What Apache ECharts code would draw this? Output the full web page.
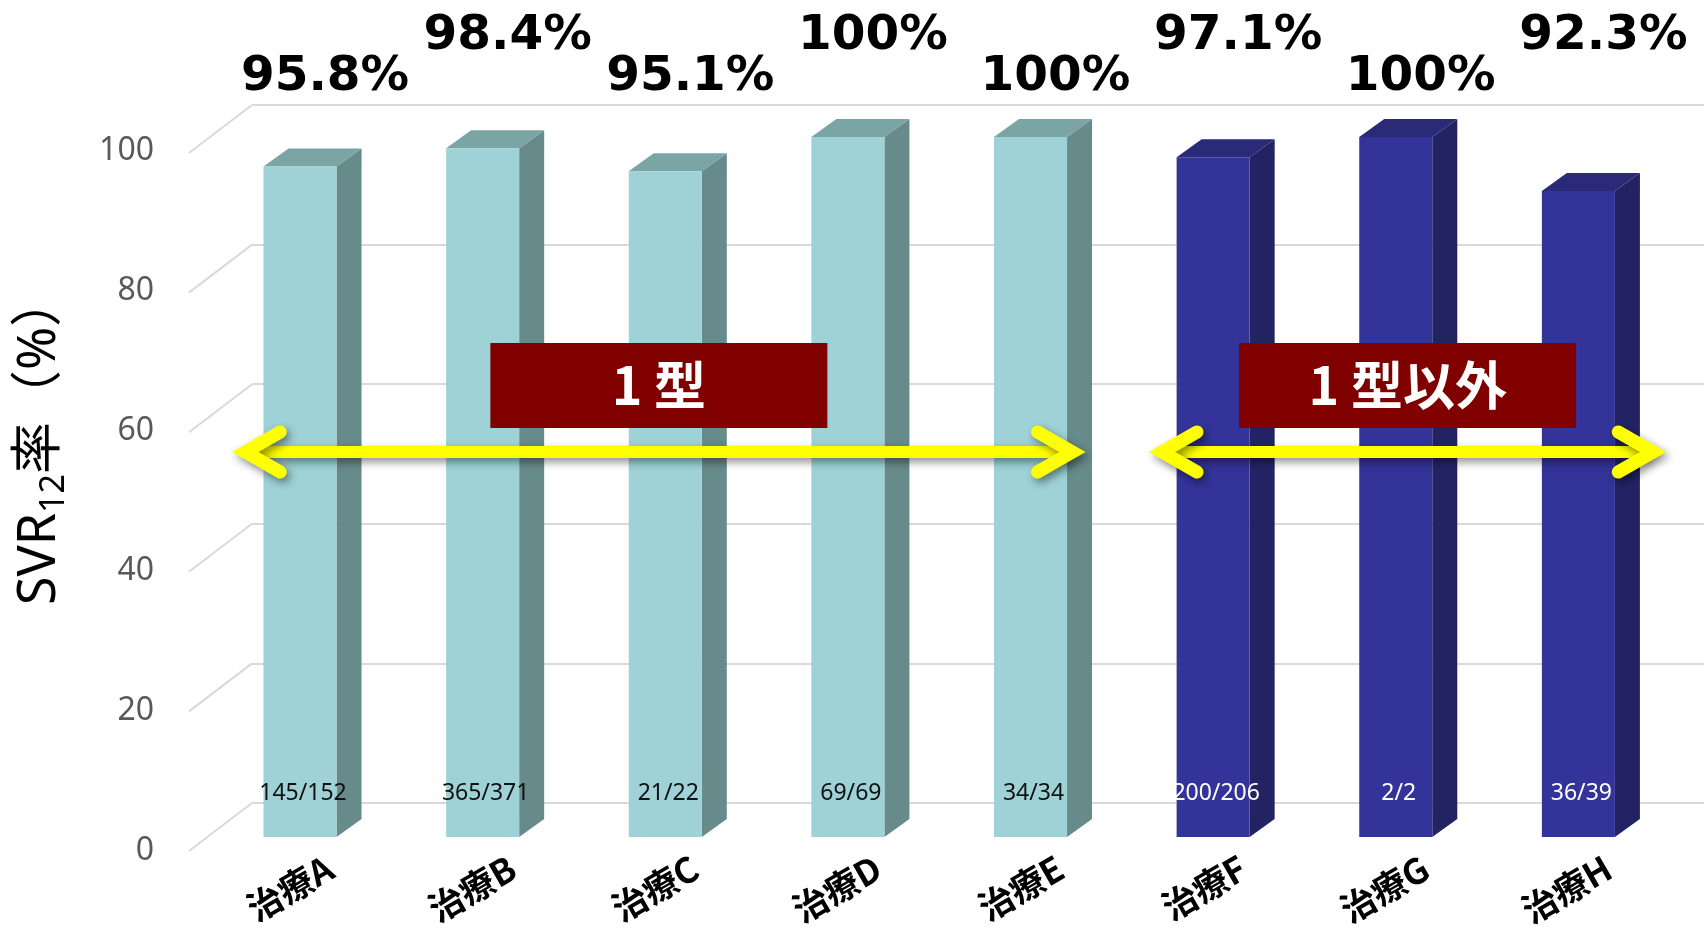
<!DOCTYPE html>
<html>
<head>
<meta charset="utf-8">
<script src="https://cdn.jsdelivr.net/npm/echarts@6/dist/echarts.min.js"></script>
<style>
  html, body { margin: 0; padding: 0; background: #ffffff; }
  #chart { width: 1704px; height: 930px; }
</style>
</head>
<body>
<div id="chart"></div>
<script>
// Treatments and their SVR12 rates
const categories = ['治療A', '治療B', '治療C', '治療D', '治療E', '治療F', '治療G', '治療H'];
const svrRates = [95.8, 98.4, 95.1, 100, 100, 97.1, 100, 92.3];
const patientCounts = ['145/152', '365/371', '21/22', '69/69', '34/34', '200/206', '2/2', '36/39'];

// Genotype groups (first / last treatment index of each group)
const groupNames = ['1 型', '1 型以外'];
const groupFirst = [0, 5];
const groupLast = [4, 7];

// Value axis ticks
const yTicks = [0, 20, 40, 60, 80, 100];

// ---- drawing settings ----
const PALETTE = [
  { front: '#9ED2D6', side: '#678A8B', top: '#7BA4A5', count: '#111111' },
  { front: '#333399', side: '#232363', top: '#2A2A78', count: '#FFFFFF' }
];
const DEPTH_X = 25, DEPTH_Y = 18;          // bar depth offset
const WALL_X = 63, WALL_Y = 48;            // floor diagonal
const ARROW_PAD = [[-0.30, 0.23], [-0.28, 0.41]];  // arrow overhang, in bands
const ARROW_LEVEL = 55, BOX_LEVEL = 64.5;
const YELLOW = '#FFFF00';

function groupOf(i) {
  return groupFirst.findIndex((f, g) => i >= f && i <= groupLast[g]);
}

function renderBar(params, api) {
  const i = api.value(0);
  const v = api.value(1);
  const base = api.coord([i, 0]);
  const top = api.coord([i, v]);
  const band = api.size([1, 0])[0];
  const w = band * 0.4;
  const x0 = base[0] - w / 2, x1 = base[0] + w / 2;
  const yb = base[1], yt = top[1];
  const c = PALETTE[groupOf(i)];
  const ref100 = api.coord([i, 100])[1];
  const labelY = ref100 - (i % 2 === 0 ? 60 : 101);
  return {
    type: 'group',
    children: [
      { type: 'polygon',
        shape: { points: [[x1, yb], [x1 + DEPTH_X, yb - DEPTH_Y], [x1 + DEPTH_X, yt - DEPTH_Y], [x1, yt]] },
        style: { fill: c.side } },
      { type: 'polygon',
        shape: { points: [[x0, yt], [x1, yt], [x1 + DEPTH_X, yt - DEPTH_Y], [x0 + DEPTH_X, yt - DEPTH_Y]] },
        style: { fill: c.top } },
      { type: 'rect',
        shape: { x: x0, y: yt, width: w, height: yb - yt },
        style: { fill: c.front } },
      { type: 'text', x: base[0] + 3, y: yb - 44,
        style: { text: patientCounts[i], fill: c.count, fontSize: 23,
                 fontFamily: "'Noto Sans', sans-serif", align: 'center', verticalAlign: 'middle' } },
      { type: 'text', x: base[0] + 25, y: labelY,
        style: { text: svrRates[i] + '%', fill: '#000000', fontSize: 48.5, fontWeight: 'bold',
                 fontFamily: "'DejaVu Sans', sans-serif", align: 'center', verticalAlign: 'middle' } }
    ]
  };
}

function renderGroup(params, api) {
  const g = api.value(0);
  const band = api.size([1, 0])[0];
  const xa = api.coord([groupFirst[g], 0])[0] + ARROW_PAD[g][0] * band;
  const xb = api.coord([groupLast[g], 0])[0] + ARROW_PAD[g][1] * band;
  const y = api.coord([0, ARROW_LEVEL])[1];
  const yBox = api.coord([0, BOX_LEVEL])[1];
  const cx = (xa + xb) / 2;
  const shadow = { shadowBlur: 8, shadowColor: 'rgba(0,0,0,0.45)', shadowOffsetX: 3, shadowOffsetY: 4 };
  return {
    type: 'group',
    children: [
      { type: 'line', shape: { x1: xa + 6, y1: y, x2: xb - 6, y2: y },
        style: Object.assign({ stroke: YELLOW, lineWidth: 12, lineCap: 'butt' }, shadow) },
      { type: 'polyline', shape: { points: [[xa + 35, y - 20], [xa, y], [xa + 35, y + 20]] },
        style: Object.assign({ stroke: YELLOW, lineWidth: 13, lineCap: 'round', lineJoin: 'miter', fill: null }, shadow) },
      { type: 'polyline', shape: { points: [[xb - 35, y - 20], [xb, y], [xb - 35, y + 20]] },
        style: Object.assign({ stroke: YELLOW, lineWidth: 13, lineCap: 'round', lineJoin: 'miter', fill: null }, shadow) },
      { type: 'rect', shape: { x: cx - 168.5, y: yBox - 42.5, width: 337, height: 85 },
        style: { fill: '#800000' } },
      { type: 'text', x: cx, y: yBox,
        style: { text: groupNames[g], fill: '#FFFFFF', fontSize: 52, fontWeight: 'bold',
                 fontFamily: "'Noto Sans CJK JP', sans-serif", align: 'center', verticalAlign: 'middle' } }
    ]
  };
}

const chart = echarts.init(document.getElementById('chart'), null, { renderer: 'canvas' });

chart.setOption({
  animation: false,
  backgroundColor: '#ffffff',
  grid: [
    { left: 208.7, right: 34.3, top: 137, bottom: 93 },   // bar front plane
    { left: 252, right: 0, top: 105, bottom: 127 },       // back wall
    { left: 162, right: 0, top: 151, bottom: 79 },        // floor front edge
    { left: 238.7, right: 4.3, top: 137, bottom: 93 }     // category labels
  ],
  xAxis: [
    { type: 'category', gridIndex: 0, data: categories, show: false },
    { type: 'value', gridIndex: 1, min: 0, max: 1, show: false },
    { type: 'value', gridIndex: 2, min: 0, max: 1, show: false },
    { type: 'category', gridIndex: 3, data: categories,
      axisLine: { show: false }, axisTick: { show: false },
      axisLabel: { rotate: 30, margin: 55, fontSize: 35, fontWeight: 'bold', color: '#000000',
                   fontFamily: "'Noto Sans CJK JP', sans-serif", interval: 0 } }
  ],
  yAxis: [
    { type: 'value', gridIndex: 0, min: 0, max: 100, interval: 20, show: false },
    { type: 'value', gridIndex: 1, min: 0, max: 100, interval: 20,
      axisLine: { show: false }, axisTick: { show: false }, axisLabel: { show: false },
      splitLine: { show: true, lineStyle: { color: '#D9D9D9', width: 2 } } },
    { type: 'value', gridIndex: 2, min: 0, max: 100, interval: 20,
      axisLine: { show: false }, axisTick: { show: false }, splitLine: { show: false },
      axisLabel: { margin: 8, fontSize: 32, color: '#595959', fontFamily: "'Noto Sans', sans-serif",
                   formatter: v => (yTicks.includes(v) ? String(v) : '') } },
    { type: 'value', gridIndex: 3, min: 0, max: 100, show: false }
  ],
  graphic: [
    { type: 'text', x: 40, y: 440, rotation: Math.PI / 2,
      style: {
        text: '{m|SVR}{s|12}{m|率（%）}',
        align: 'center', verticalAlign: 'middle', fill: '#000000',
        rich: {
          m: { fontSize: 52, lineHeight: 62, fill: '#000000', fontFamily: "'Noto Sans', 'Noto Sans CJK JP', sans-serif" },
          s: { fontSize: 34, lineHeight: 34, verticalAlign: 'bottom', fill: '#000000', fontFamily: "'Noto Sans', sans-serif" }
        }
      } }
  ],
  series: [
    { // slanted floor lines joining the back wall
      type: 'custom', xAxisIndex: 1, yAxisIndex: 1, silent: true, z: 1,
      data: yTicks.map(v => [0, v]),
      renderItem: (params, api) => {
        const b = api.coord([0, api.value(1)]);
        return { type: 'line', shape: { x1: b[0] - WALL_X, y1: b[1] + WALL_Y, x2: b[0], y2: b[1] },
                 style: { stroke: '#D9D9D9', lineWidth: 2 } };
      }
    },
    { // 3D bars with labels
      type: 'custom', xAxisIndex: 0, yAxisIndex: 0, silent: true, z: 2, clip: false,
      data: svrRates.map((v, i) => [i, v]),
      renderItem: renderBar
    },
    { // genotype arrows and tags
      type: 'custom', xAxisIndex: 0, yAxisIndex: 0, silent: true, z: 3, clip: false,
      data: groupNames.map((n, g) => [g]),
      renderItem: renderGroup
    }
  ]
});
</script>
</body>
</html>
